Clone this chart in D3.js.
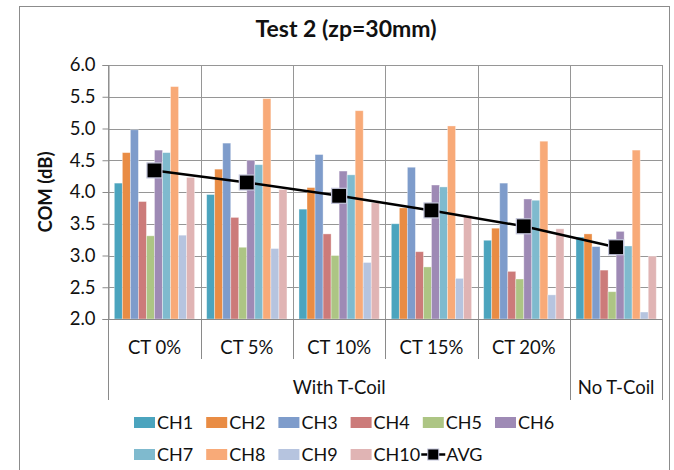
<!DOCTYPE html>
<html>
<head>
<meta charset="utf-8">
<script src="https://cdn.jsdelivr.net/npm/d3@7"></script>
<style>
  html, body { margin: 0; padding: 0; background: #fff; }
  svg { display: block; font-family: Lato, "Open Sans", sans-serif; }
</style>
</head>
<body>
<svg id="chart" width="674" height="470"></svg>
<script>
// Test conditions (first level) and their grouping (second level)
const categories = ["CT 0%", "CT 5%", "CT 10%", "CT 15%", "CT 20%", "No T-Coil"];
const groupLabels = ["With T-Coil", "No T-Coil"];
const groupSpans = [5, 1];

const channels = ["CH1", "CH2", "CH3", "CH4", "CH5", "CH6", "CH7", "CH8", "CH9", "CH10"];
const channelColors = ["#4ba4be", "#e98c44", "#7e9ccb", "#cc7b7a", "#adc584",
                       "#9e8ab5", "#7fbace", "#f8aa78", "#b6c4df", "#e0b4b4"];

// COM (dB) per channel, one value per test condition
const CH1  = [4.14, 3.96, 3.73, 3.50, 3.24, 3.29];
const CH2  = [4.62, 4.36, 4.07, 3.75, 3.43, 3.34];
const CH3  = [4.98, 4.77, 4.59, 4.39, 4.14, 3.14];
const CH4  = [3.85, 3.60, 3.34, 3.06, 2.75, 2.77];
const CH5  = [3.31, 3.13, 3.00, 2.82, 2.63, 2.43];
const CH6  = [4.66, 4.50, 4.33, 4.11, 3.89, 3.38];
const CH7  = [4.62, 4.43, 4.27, 4.08, 3.87, 3.15];
const CH8  = [5.66, 5.47, 5.28, 5.04, 4.80, 4.66];
const CH9  = [3.32, 3.11, 2.89, 2.64, 2.38, 2.11];
const CH10 = [4.23, 4.04, 3.83, 3.63, 3.42, 2.99];
const AVG  = [4.34, 4.15, 3.94, 3.71, 3.46, 3.13];

const seriesValues = [CH1, CH2, CH3, CH4, CH5, CH6, CH7, CH8, CH9, CH10];
const yTicks = [2.0, 2.5, 3.0, 3.5, 4.0, 4.5, 5.0, 5.5, 6.0];

const svg = d3.select("#chart");
const plot = { left: 108.3, right: 662.3, top: 65, bottom: 319 };

const x = d3.scaleBand().domain(categories).range([plot.left, plot.right]).padding(0);
const xInner = d3.scaleBand().domain(channels).range([0, x.bandwidth()])
  .paddingInner(0).paddingOuter(0.75);
const y = d3.scaleLinear().domain([2, 6]).range([plot.bottom, plot.top]);
const color = d3.scaleOrdinal().domain(channels).range(channelColors);

const gridColor = "#969696";
const axisColor = "#8a8a8a";
const textColor = "#111";

// Chart frame
svg.append("rect")
  .attr("x", 19.5).attr("y", 6.5).attr("width", 650).attr("height", 470)
  .attr("fill", "#fff").attr("stroke", "#8c8c8c").attr("stroke-width", 1);

// Title
svg.append("text")
  .attr("x", 346).attr("y", 37)
  .attr("text-anchor", "middle")
  .attr("font-weight", "bold").attr("font-size", 23)
  .attr("fill", textColor)
  .text("Test 2 (zp=30mm)");

// Horizontal gridlines
svg.append("g").selectAll("line").data(yTicks).join("line")
  .attr("x1", plot.left).attr("x2", plot.right)
  .attr("y1", d => Math.round(y(d)) + 0.5).attr("y2", d => Math.round(y(d)) + 0.5)
  .attr("stroke", gridColor).attr("stroke-width", 1);

// Vertical gridlines at category boundaries
const bounds = categories.map(c => x(c)).concat([plot.right]);
svg.append("g").selectAll("line").data(bounds).join("line")
  .attr("x1", d => Math.round(d) + 0.5).attr("x2", d => Math.round(d) + 0.5)
  .attr("y1", plot.top).attr("y2", plot.bottom)
  .attr("stroke", gridColor).attr("stroke-width", 1);

// Y axis
const yAxis = d3.axisLeft(y).tickValues(yTicks).tickFormat(d3.format(".1f"))
  .tickSize(6).tickPadding(7);
const yAxisG = svg.append("g")
  .attr("transform", `translate(${Math.round(plot.left) + 0.5},0)`)
  .call(yAxis);
yAxisG.select(".domain").attr("stroke", axisColor);
yAxisG.selectAll(".tick line").attr("stroke", axisColor);
yAxisG.selectAll(".tick text")
  .attr("font-family", "Lato, sans-serif").attr("font-size", 18.5).attr("fill", textColor);

// Y axis title
svg.append("text")
  .attr("transform", `translate(52,${(plot.top + plot.bottom) / 2}) rotate(-90)`)
  .attr("text-anchor", "middle")
  .attr("font-weight", "bold").attr("font-size", 18.5)
  .attr("fill", textColor)
  .text("COM (dB)");

// Bars
const barData = [];
seriesValues.forEach((vals, si) => {
  vals.forEach((v, ci) => barData.push({ ch: channels[si], cat: categories[ci], v }));
});
svg.append("g").selectAll("rect").data(barData).join("rect")
  .attr("x", d => x(d.cat) + xInner(d.ch))
  .attr("width", xInner.bandwidth())
  .attr("y", d => y(d.v))
  .attr("height", d => y(2) - y(d.v))
  .attr("fill", d => color(d.ch))
  .attr("stroke", "#ffffff").attr("stroke-opacity", 0.45).attr("stroke-width", 0.8);

// Category axis: bottom line and separators
svg.append("line")
  .attr("x1", plot.left).attr("x2", plot.right)
  .attr("y1", Math.round(plot.bottom) + 0.5).attr("y2", Math.round(plot.bottom) + 0.5)
  .attr("stroke", axisColor);

const groupEdges = [0];
groupSpans.forEach((s, i) => groupEdges.push(groupEdges[i] + s));
const edgeIdx = new Set(groupEdges);
svg.append("g").selectAll("line").data(bounds).join("line")
  .attr("x1", d => Math.round(d) + 0.5).attr("x2", d => Math.round(d) + 0.5)
  .attr("y1", plot.bottom)
  .attr("y2", (d, i) => edgeIdx.has(i) ? 400 : 359)
  .attr("stroke", axisColor);

// First-level labels
svg.append("g").selectAll("text").data(categories.slice(0, 5)).join("text")
  .attr("x", d => x(d) + x.bandwidth() / 2).attr("y", 354)
  .attr("text-anchor", "middle").attr("font-size", 18.5).attr("fill", textColor)
  .text(d => d);

// Second-level labels
svg.append("g").selectAll("text").data(groupLabels).join("text")
  .attr("x", (d, i) => (bounds[groupEdges[i]] + bounds[groupEdges[i + 1]]) / 2)
  .attr("y", 394)
  .attr("text-anchor", "middle").attr("font-size", 18.5).attr("fill", textColor)
  .text(d => d);

// AVG line with square markers
const avgPts = AVG.map((v, i) => [x(categories[i]) + x.bandwidth() / 2, y(v)]);
svg.append("path")
  .attr("d", d3.line()(avgPts))
  .attr("fill", "none").attr("stroke", "#000").attr("stroke-width", 2.5);
svg.append("g").selectAll("rect").data(avgPts).join("rect")
  .attr("x", d => d[0] - 7.5).attr("y", d => d[1] - 7.5)
  .attr("width", 15).attr("height", 15)
  .attr("fill", "#000").attr("stroke", "#c4c6dc").attr("stroke-width", 1.2);

// Legend
const legend = svg.append("g");
let lastTextEnd = 0;
channels.forEach((name, i) => {
  const row = i < 6 ? 0 : 1;
  const col = i < 6 ? i : i - 6;
  const lx = 134 + col * 72.2;
  const ly = row === 0 ? 417 : 449;
  legend.append("rect")
    .attr("x", lx).attr("y", ly).attr("width", 21).attr("height", 11)
    .attr("fill", channelColors[i]);
  const t = legend.append("text")
    .attr("x", lx + 23).attr("y", ly + 11.5)
    .attr("font-size", 18).attr("fill", textColor).text(name);
  lastTextEnd = lx + 23 + t.node().getComputedTextLength();
});
// AVG legend entry follows the last channel entry
const ax = lastTextEnd + 1;
legend.append("line")
  .attr("x1", ax).attr("x2", ax + 24).attr("y1", 454.5).attr("y2", 454.5)
  .attr("stroke", "#000").attr("stroke-width", 2.5);
legend.append("rect")
  .attr("x", ax + 6.5).attr("y", 449).attr("width", 11).attr("height", 11)
  .attr("fill", "#000").attr("stroke", "#c4c6dc").attr("stroke-width", 1);
legend.append("text")
  .attr("x", ax + 25).attr("y", 460.5)
  .attr("font-size", 18).attr("fill", textColor).text("AVG");
</script>
</body>
</html>
